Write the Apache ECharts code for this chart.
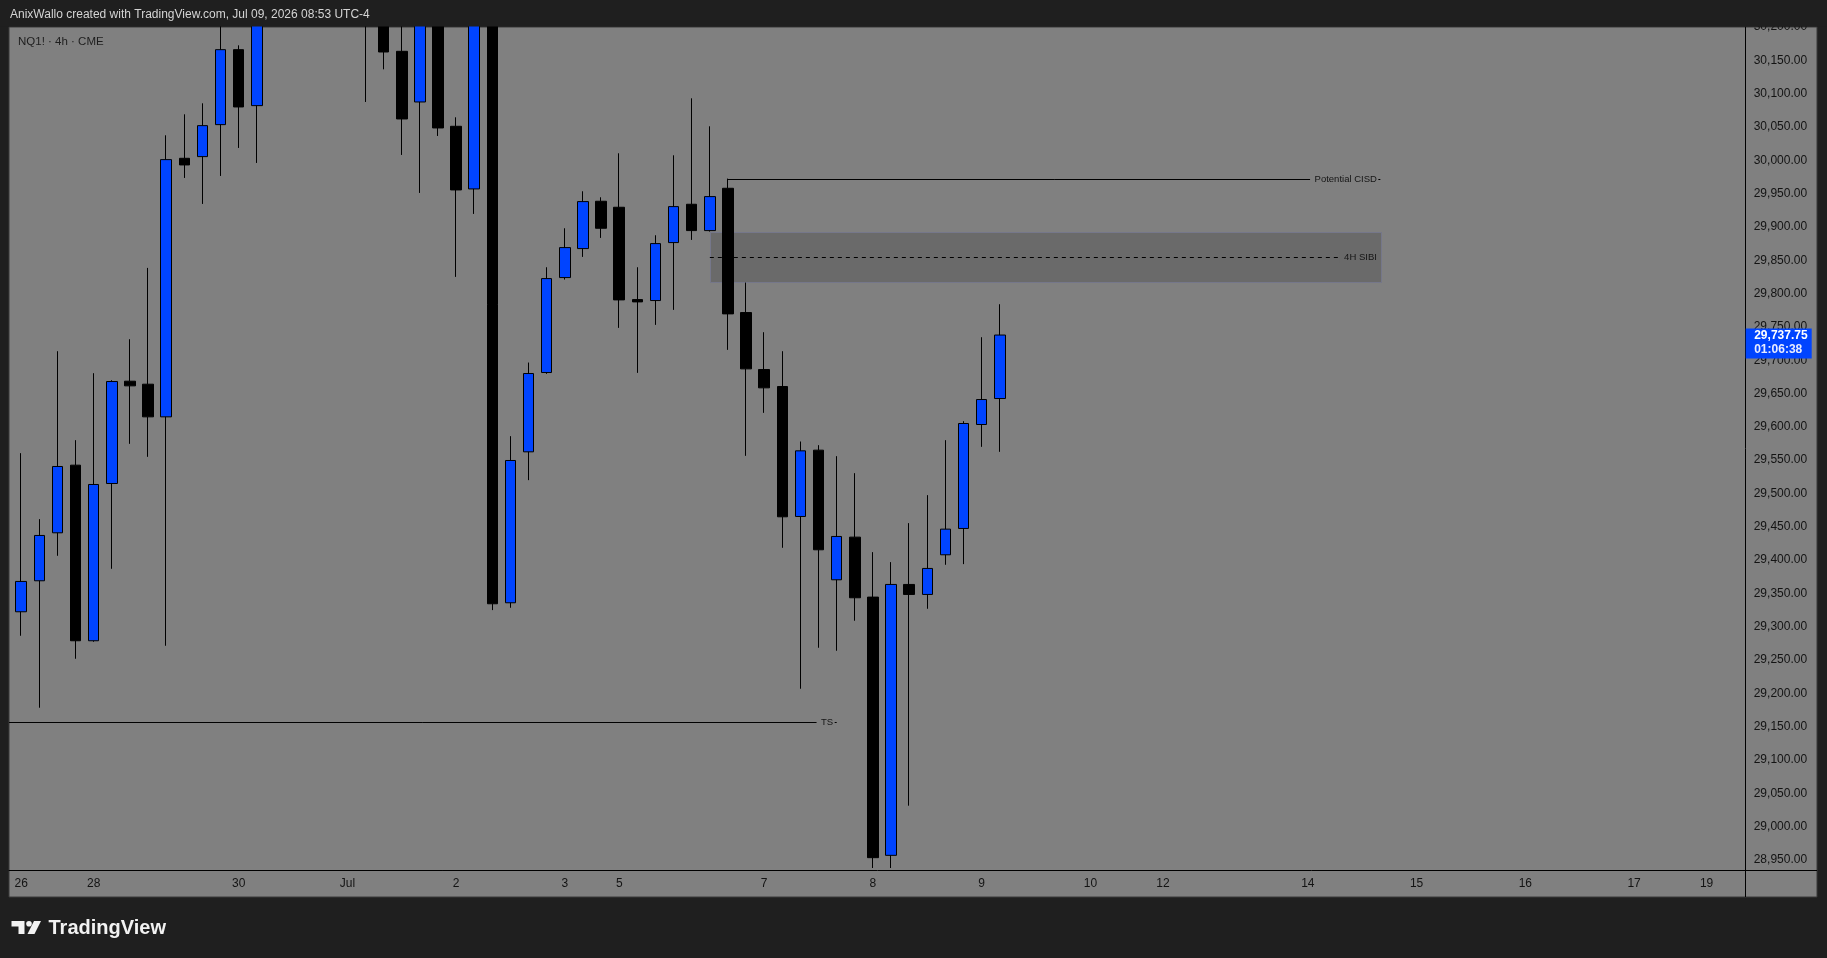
<!DOCTYPE html>
<html>
<head>
<meta charset="utf-8">
<script src="https://cdn.jsdelivr.net/npm/echarts@6/dist/echarts.min.js"></script>
<style>
html,body{margin:0;padding:0;background:#1f1f1f;overflow:hidden}
#c{width:1827px;height:958px}
</style>
</head>
<body>
<div id="c"></div>
<script>
// ---- data (NQ1! 4h) ----
const opens  = [29322.5,29369,29441,29542.5,29279,29515,29668.5,29664,29615,30003,30005.5,30053.5,30166,30082,30245,30290,30335,30300,30345,30262,30250,30163.5,30087.5,30235,30051,29957,30232,29336,29562.5,29681.5,29824,29867.5,29938.5,29929.5,29791,29789.5,29876.5,29934,29894.5,29958,29771.5,29686,29660.5,29465.5,29565,29370.5,29434.5,29344.5,28957,29363.5,29348.5,29408,29447.5,29603.5,29642.5];
const closes = [29368,29437,29540.5,29279,29513.5,29668,29661.5,29615,30001,29993,30052,30166,30080,30243,30288,30333,30302,30346,30262,30252,30162.5,30062,30236,30048.5,29955.5,30230,29334.5,29549.5,29680,29822.5,29869,29938,29898,29790.5,29787.5,29875,29930.5,29894.5,29945.5,29769.5,29687,29658.5,29465,29564,29415.5,29435.5,29343.5,28953.5,29363.5,29348.5,29387.5,29446.5,29605,29641,29737.75];
const highs  = [29560.5,29461.5,29713.5,29580,29680.5,29670,29731.5,29838.5,30037.5,30069,30085.5,30215,30172.5,30262,30312,30365,30381,30392,30371,30296,30281,30232,30270,30258,30064.5,30251,30248,29586,29696.5,29839.5,29898,29953.5,29944.5,30010.5,29839.5,29887.5,30007.5,30093,30051,29972.5,29816.5,29742,29713.5,29578,29572.5,29556,29530.5,29412,29397,29455.5,29497.5,29580,29608.5,29734.5,29784];
const lows   = [29286.5,29178.5,29406.5,29252,29277.5,29387,29574.5,29555,29271.5,29973.5,29934.5,29976.5,30018.5,29996,30218,30262,30281,30273,30248,30087.5,30136.5,30008,29951,30036.5,29825,29919.5,29325,29328.5,29520,29679.5,29821,29855,29883.5,29748.5,29681,29753,29775.5,29880.5,29893,29715.5,29556.5,29621,29418.5,29207,29268.5,29264,29309,28938,28938,29031.5,29327,29393,29394,29570,29562.5];

const timeTickIndex  = [0,4,12,18,24,30,33,41,47,53,59,63,71,77,83,89,93];
const timeTickLabels = ['26','28','30','Jul','2','3','5','7','8','9','10','12','14','15','16','17','19'];
const priceTicks = [28950,29000,29050,29100,29150,29200,29250,29300,29350,29400,29450,29500,29550,29600,29650,29700,29750,29800,29850,29900,29950,30000,30050,30100,30150,30200];

const lastPrice = 29737.75;
const countdown = '01:06:38';

// annotations (bar index / price)
const sibiZone = [38, 75, 29892.5, 29817.5];   // from, to, top, bottom
const sibiMid  = [38, 75, 29855];              // from, to, level
const cisdLine = [39, 75, 29972.5];
const tsLine   = [-3, 45, 29156.5];

// ---- chart ----
const FONT = '"Liberation Sans", Arial, sans-serif';
const fmtPrice = v => Number(v).toLocaleString('en-US', {minimumFractionDigits: 2, maximumFractionDigits: 2});
const candleData = opens.map((o, i) => [i, o, closes[i], lows[i], highs[i]]);

function labeledLine(line, label, bg, dashed) {
  return {
    type: 'custom', z: 2, clip: true, silent: true,
    data: [[line[0], line[2]]],
    encode: {x: 0, y: 1},
    renderItem: (params, api) => {
      const cs = params.coordSys;
      const p1 = api.coord([line[0], line[2]]);
      const p2 = api.coord([line[1], line[2]]);
      const y = Math.round(p1[1]) + 0.5;
      return {
        type: 'group',
        children: [
          {type: 'line', shape: {x1: Math.max(p1[0], cs.x), y1: y, x2: p2[0], y2: y},
           style: {stroke: '#000', lineWidth: 1, lineDash: dashed ? [4, 4] : null}},
          {type: 'text', x: p2[0] - 2, y: y,
           style: {text: label, align: 'right', verticalAlign: 'middle', fill: '#151515',
                   font: '9.5px ' + FONT, backgroundColor: bg, padding: [1, 1.5, 1, 4.5]}}
        ]
      };
    }
  };
}

const chart = echarts.init(document.getElementById('c'), null, {renderer: 'canvas'});
chart.setOption({
  backgroundColor: '#1f1f1f',
  animation: false,
  grid: {left: 9, top: 27, width: 1736.7, height: 843, show: false},
  xAxis: {
    type: 'value', min: -0.673, max: 95.16,
    axisLine: {show: true, onZero: false, lineStyle: {color: '#000', width: 1}},
    axisTick: {show: false},
    splitLine: {show: false},
    axisLabel: {
      customValues: timeTickIndex,
      formatter: v => timeTickLabels[timeTickIndex.indexOf(Math.round(v))] || '',
      color: '#131313', fontSize: 12, fontFamily: FONT, margin: 8
    }
  },
  yAxis: {
    type: 'value', position: 'right', min: 28935, max: 30200, scale: true,
    axisLine: {show: true, onZero: false, lineStyle: {color: '#000', width: 1}},
    axisTick: {show: false, customValues: priceTicks},
    splitLine: {show: false},
    axisLabel: {
      customValues: priceTicks,
      formatter: v => fmtPrice(v),
      color: '#131313', fontSize: 12, fontFamily: FONT, margin: 8
    }
  },
  graphic: [
    {type: 'rect', z: -10, silent: true, shape: {x: 9, y: 27, width: 1808, height: 870},
     style: {fill: '#808080', stroke: '#3a3a3a', lineWidth: 1}},
    {type: 'line', z: 5, silent: true, shape: {x1: 1745.5, y1: 870, x2: 1745.5, y2: 897}, style: {stroke: '#000', lineWidth: 1}},
    {type: 'line', z: 5, silent: true, shape: {x1: 1745.5, y1: 870.5, x2: 1817, y2: 870.5}, style: {stroke: '#000', lineWidth: 1}},
    {type: 'rect', z: 100, silent: true, shape: {x: 0, y: 0, width: 1827, height: 26.5}, style: {fill: '#1f1f1f'}},
    {type: 'text', z: 101, silent: true, x: 10, y: 15,
     style: {text: 'AnixWallo created with TradingView.com, Jul 09, 2026 08:53 UTC-4', fill: '#d4d4d4',
             font: '12px ' + FONT, verticalAlign: 'middle'}},
    {type: 'text', z: 101, silent: true, x: 18, y: 42,
     style: {text: 'NQ1! · 4h · CME', fill: '#1e1e1e', font: '11.5px ' + FONT, verticalAlign: 'middle'}},
    // TradingView logo
    {type: 'polygon', z: 101, silent: true,
     shape: {points: [[11.5, 921], [24.5, 921], [24.5, 934], [18.5, 934], [18.5, 926.5], [11.5, 926.5]]},
     style: {fill: '#f2f2f2'}},
    {type: 'circle', z: 101, silent: true, shape: {cx: 29, cy: 923.8, r: 2.8}, style: {fill: '#f2f2f2'}},
    {type: 'polygon', z: 101, silent: true,
     shape: {points: [[34, 921], [41, 921], [34.5, 934], [27.5, 934]]},
     style: {fill: '#f2f2f2'}},
    {type: 'text', z: 101, silent: true, x: 48.5, y: 928,
     style: {text: 'TradingView', fill: '#f2f2f2', font: 'bold 20px ' + FONT, verticalAlign: 'middle'}}
  ],
  series: [
    {
      type: 'custom', z: 1, clip: true, silent: true,
      data: [[sibiZone[0], sibiZone[2]]],
      encode: {x: 0, y: 1},
      renderItem: (params, api) => {
        const a = api.coord([sibiZone[0], sibiZone[2]]);
        const b = api.coord([sibiZone[1], sibiZone[3]]);
        return {type: 'rect',
          shape: {x: Math.round(a[0]) + 0.5, y: Math.round(a[1]) + 0.5, width: Math.round(b[0] - a[0]), height: Math.round(b[1] - a[1])},
          style: {fill: '#6a6a6a', stroke: '#75778a', lineWidth: 1}};
      }
    },
    labeledLine(sibiMid, '4H SIBI', '#6a6a6a', true),
    labeledLine(cisdLine, 'Potential CISD', '#808080', false),
    labeledLine(tsLine, 'TS', '#808080', false),
    {
      type: 'candlestick', z: 3,
      data: candleData,
      encode: {x: 0, y: [1, 2, 3, 4]},
      barWidth: 11,
      clip: true,
      itemStyle: {color: '#0044ff', color0: '#000000', borderColor: '#000000', borderColor0: '#000000', borderWidth: 1}
    },
    {
      type: 'custom', z: 20, clip: false, silent: true,
      data: [[0, lastPrice]],
      encode: {x: 0, y: 1},
      renderItem: (params, api) => {
        const cs = params.coordSys;
        const y = api.coord([0, lastPrice])[1];
        const x0 = cs.x + cs.width;
        return {
          type: 'group',
          children: [
            {type: 'rect', shape: {x: x0, y: y - 6.5, width: 66, height: 30}, style: {fill: '#0044ff'}},
            {type: 'text', x: x0 + 8.5, y: y + 1,
             style: {text: fmtPrice(lastPrice), fill: '#ffffff', font: 'bold 12px ' + FONT, verticalAlign: 'middle'}},
            {type: 'text', x: x0 + 8.5, y: y + 14.5,
             style: {text: countdown, fill: '#e8ecff', font: 'bold 12px ' + FONT, verticalAlign: 'middle'}}
          ]
        };
      }
    }
  ]
});
</script>
</body>
</html>
